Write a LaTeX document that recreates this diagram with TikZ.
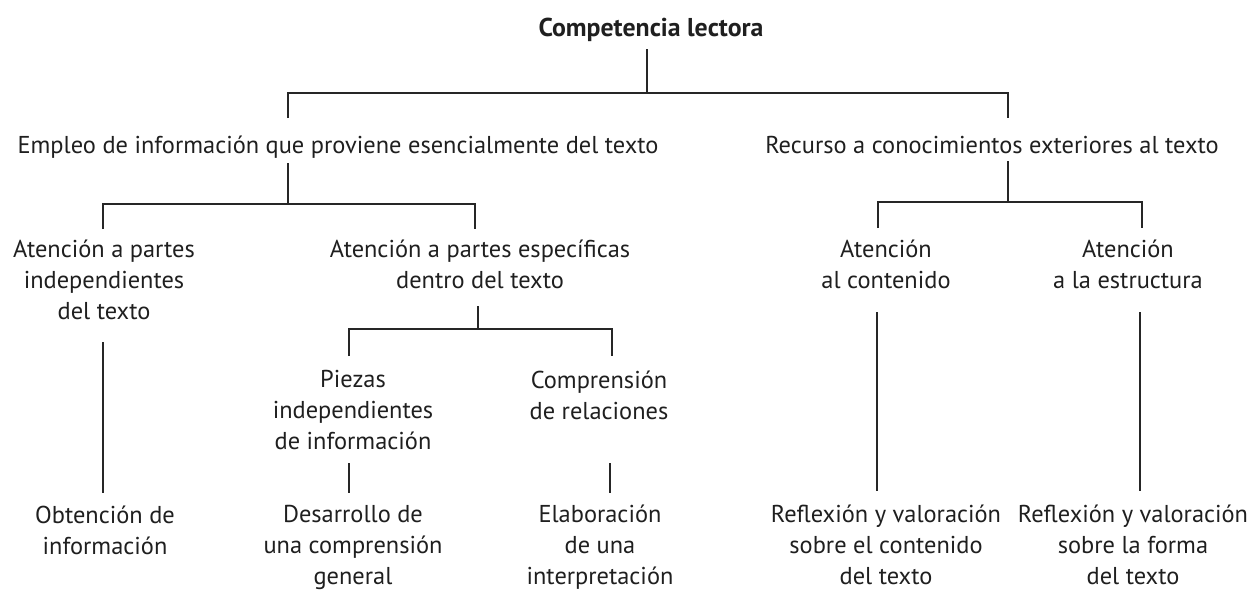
\documentclass[tikz,border=0pt]{standalone}
\usepackage{fontspec}
\setmainfont{PT Sans}
\begin{document}
\begin{tikzpicture}[x=0.5pt,y=-0.5pt,
  lbl/.style={inner sep=0pt, align=center, anchor=base, text=black!88,
    font=\fontsize{12.2}{15.5}\selectfont},
  ln/.style={line width=1.3pt, draw=black!85}]
\useasboundingbox (0,0) rectangle (1249,591);
% nodes (anchor = baseline of the last line)
\node[lbl, font=\fontsize{12.9}{15.5}\selectfont\bfseries] (root) at (651,36) {Competencia lectora};
\node[lbl] (emp) at (338,153) {Empleo de información que proviene esencialmente del texto};
\node[lbl] (rec) at (992,153) {Recurso a conocimientos exteriores al texto};
\node[lbl] (a1) at (104,319) {Atención a partes\\independientes\\del texto};
\node[lbl] (a2) at (480,288) {Atención a partes específicas\\dentro del texto};
\node[lbl] (a3) at (886,288) {Atención\\al contenido};
\node[lbl] (a4) at (1128,288) {Atención\\a la estructura};
\node[lbl] (p1) at (353,449) {Piezas\\independientes\\de información};
\node[lbl] (p2) at (599,419) {Comprensión\\de relaciones};
\node[lbl] (b1) at (105,554) {Obtención de\\información};
\node[lbl] (b2) at (353,584) {Desarrollo de\\una comprensión\\general};
\node[lbl] (b3) at (600,584) {Elaboración\\de una\\interpretación};
\node[lbl] (b4) at (886,584) {Reflexión y valoración\\sobre el contenido\\del texto};
\node[lbl] (b5) at (1133,584) {Reflexión y valoración\\sobre la forma\\del texto};
% junction coordinates
\coordinate (rootS) at (647,49);
\coordinate (j1) at (647,93);
\coordinate (empN) at (288,118);
\coordinate (recN) at (1008,118);
\coordinate (empS) at (288,163);
\coordinate (j2) at (288,204);
\coordinate (a1N) at (103,229);
\coordinate (a2N) at (475,229);
\coordinate (recS) at (1008,161);
\coordinate (j3) at (1008,202);
\coordinate (a3N) at (878,228);
\coordinate (a4N) at (1142,228);
\coordinate (a2S) at (478,306);
\coordinate (j4) at (478,329);
\coordinate (p1N) at (349,356);
\coordinate (p2N) at (612,356);
\coordinate (a1S) at (103,342);
\coordinate (b1N) at (103,493);
\coordinate (p1S) at (349,463);
\coordinate (b2N) at (349,493);
\coordinate (p2S) at (610,463);
\coordinate (b3N) at (610,493);
\coordinate (a3S) at (877,312);
\coordinate (b4N) at (877,491);
\coordinate (a4S) at (1140,312);
\coordinate (b5N) at (1140,491);
% connectors
\draw[ln] (rootS) -- (j1);
\draw[ln] (empN) |- (j1) -| (recN);
\draw[ln] (empS) -- (j2);
\draw[ln] (a1N) |- (j2) -| (a2N);
\draw[ln] (recS) -- (j3);
\draw[ln] (a3N) |- (j3) -| (a4N);
\draw[ln] (a2S) -- (j4);
\draw[ln] (p1N) |- (j4) -| (p2N);
\draw[ln] (a1S) -- (b1N);
\draw[ln] (p1S) -- (b2N);
\draw[ln] (p2S) -- (b3N);
\draw[ln] (a3S) -- (b4N);
\draw[ln] (a4S) -- (b5N);
\end{tikzpicture}
\end{document}
